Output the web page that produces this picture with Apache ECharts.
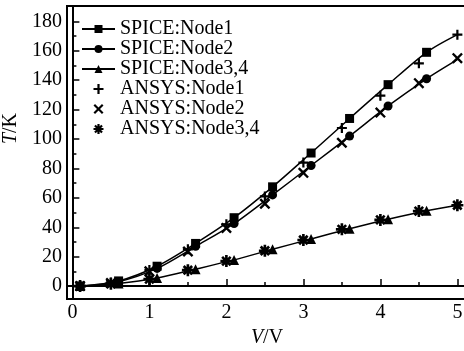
<!DOCTYPE html>
<html>
<head>
<meta charset="utf-8">
<script src="https://cdn.jsdelivr.net/npm/echarts@6/dist/echarts.min.js"></script>
<style>
  html, body { margin: 0; padding: 0; background: #fff; }
  #chart { width: 464px; height: 351px; }
</style>
</head>
<body>
<div id="chart"></div>
<script>
// SPICE curves (markers every 0.5 V, offset by 0.1 V)
var vSpice = [0.1, 0.6, 1.1, 1.6, 2.1, 2.6, 3.1, 3.6, 4.1, 4.6, 5.0];
var spiceNode1 = [0, 3.5, 13.5, 29, 46.5, 67.5, 90.5, 114, 137, 159, 171];
var spiceNode2 = [0, 3, 12, 27, 42.5, 62, 82, 102, 122.5, 141, 154];
var spiceNode34 = [0, 1.8, 5.5, 11.5, 17.8, 25, 32, 39, 45.5, 51.3, 55];

// ANSYS points
var vAnsys = [0.1, 0.5, 1.0, 1.5, 2.0, 2.5, 3.0, 3.5, 4.0, 4.5, 5.0];
var ansysNode1 = [0, 2.5, 11, 25, 42, 61, 84, 107.5, 129.5, 151.5, 171];
var ansysNode2 = [0, 2, 10, 23.5, 39.5, 56, 77, 97.5, 118, 138, 155];
var ansysNode34 = [0, 1.5, 4.7, 10.8, 17, 24, 31.3, 38.6, 45, 51, 55];

var xTicks = [0, 1, 2, 3, 4, 5];
var xMinorTicks = [0.5, 1.5, 2.5, 3.5, 4.5];
var yTicks = [0, 20, 40, 60, 80, 100, 120, 140, 160, 180];
var yMinorTicks = [10, 30, 50, 70, 90, 110, 130, 150, 170];

var FONT = 'Liberation Serif';

var plusPath = 'path://M-5,-1.1L5,-1.1L5,1.1L-5,1.1Z M1.1,-5L1.1,5L-1.1,5L-1.1,-5Z';
var crossPath = 'path://M-2.899,-4.172L4.172,2.899L2.899,4.172L-4.172,-2.899Z M4.172,-2.899L-2.899,4.172L-4.172,2.899L2.899,-4.172Z';
// thicker bars for the asterisk
var starPath = 'path://M-5,-1.1L5,-1.1L5,1.1L-5,1.1Z M1.1,-5L1.1,5L-1.1,5L-1.1,-5Z ' +
    'M-2.758,-4.313L4.313,2.758L2.758,4.313L-4.313,-2.758Z M4.313,-2.758L-2.758,4.313L-4.313,2.758L2.758,-4.313Z';

function zip(xs, ys, lastNoSymbol) {
    return xs.map(function (x, i) {
        if (lastNoSymbol && i === xs.length - 1) {
            return { value: [x, ys[i]], symbol: 'none' };
        }
        return [x, ys[i]];
    });
}

function spiceSeries(name, ys, symbol, size) {
    return {
        name: name,
        type: 'line',
        smooth: 0.3,
        data: zip(vSpice, ys, true),
        symbol: symbol,
        symbolSize: size,
        showAllSymbol: true,
        lineStyle: { color: '#000', width: 1.5 },
        itemStyle: { color: '#000' },
        z: 3
    };
}

function ansysSeries(name, ys, symbol, size) {
    return {
        name: name,
        type: 'scatter',
        data: zip(vAnsys, ys, false),
        symbol: symbol,
        symbolSize: size,
        itemStyle: { color: '#000', opacity: 1 },
        z: 4
    };
}

var chart = echarts.init(document.getElementById('chart'));

var axisText = { color: '#000', fontFamily: FONT, fontSize: 20 };

var option = {
    animation: false,
    grid: {
        left: 67, right: -3, top: 6, bottom: 52,
        outerBoundsMode: 'none',
        containLabel: false,
        show: true, borderColor: '#000', borderWidth: 2, backgroundColor: 'transparent'
    },
    legend: {
        orient: 'vertical',
        left: 81,
        top: 19,
        itemWidth: 33,
        itemHeight: 10,
        itemGap: 0,
        padding: 0,
        textStyle: { color: '#000', fontFamily: FONT, fontSize: 20, lineHeight: 19, padding: [0, 0, 0, 0] },
        data: ['SPICE:Node1', 'SPICE:Node2', 'SPICE:Node3,4', 'ANSYS:Node1', 'ANSYS:Node2', 'ANSYS:Node3,4']
    },
    xAxis: [{
        type: 'value',
        min: -0.07,
        max: 5.125,
        name: '{i|V}/V',
        nameLocation: 'middle',
        nameGap: 28,
        nameTextStyle: {
            color: '#000', fontFamily: FONT, fontSize: 20,
            rich: { i: { fontStyle: 'italic', fontFamily: FONT, fontSize: 20, color: '#000' } }
        },
        splitLine: { show: false },
        axisLine: { lineStyle: { color: '#000', width: 2 } },
        axisTick: { inside: true, length: 7, customValues: xTicks, lineStyle: { color: '#000', width: 1.5 } },
        axisLabel: Object.assign({ margin: 4, customValues: xTicks }, axisText)
    }, {
        type: 'value',
        position: 'bottom',
        min: -0.07,
        max: 5.125,
        splitLine: { show: false },
        axisLine: { show: false },
        axisTick: { inside: true, length: 4, customValues: xMinorTicks, lineStyle: { color: '#000', width: 1.5 } },
        axisLabel: { show: false }
    }],
    yAxis: [{
        type: 'value',
        min: -8.8,
        max: 190.5,
        name: '{i|T}/K',
        nameLocation: 'middle',
        nameRotate: 90,
        nameGap: 43,
        nameTextStyle: {
            color: '#000', fontFamily: FONT, fontSize: 20,
            padding: [0, 0, 0, 48],
            rich: { i: { fontStyle: 'italic', fontFamily: FONT, fontSize: 20, color: '#000' } }
        },
        splitLine: { show: false },
        axisLine: { lineStyle: { color: '#000', width: 2 } },
        axisTick: { inside: true, length: 7, customValues: yTicks, lineStyle: { color: '#000', width: 1.5 } },
        axisLabel: Object.assign({ margin: 5, customValues: yTicks }, axisText)
    }, {
        type: 'value',
        position: 'left',
        min: -8.8,
        max: 190.5,
        splitLine: { show: false },
        axisLine: { show: false },
        axisTick: { inside: true, length: 4, customValues: yMinorTicks, lineStyle: { color: '#000', width: 1.5 } },
        axisLabel: { show: false }
    }],
    series: [
        spiceSeries('SPICE:Node1', spiceNode1, 'rect', 9),
        spiceSeries('SPICE:Node2', spiceNode2, 'circle', 9),
        spiceSeries('SPICE:Node3,4', spiceNode34, 'triangle', 10),
        ansysSeries('ANSYS:Node1', ansysNode1, plusPath, 10),
        ansysSeries('ANSYS:Node2', ansysNode2, crossPath, 11),
        ansysSeries('ANSYS:Node3,4', ansysNode34, starPath, 12)
    ]
};

chart.setOption(option);
</script>
</body>
</html>
